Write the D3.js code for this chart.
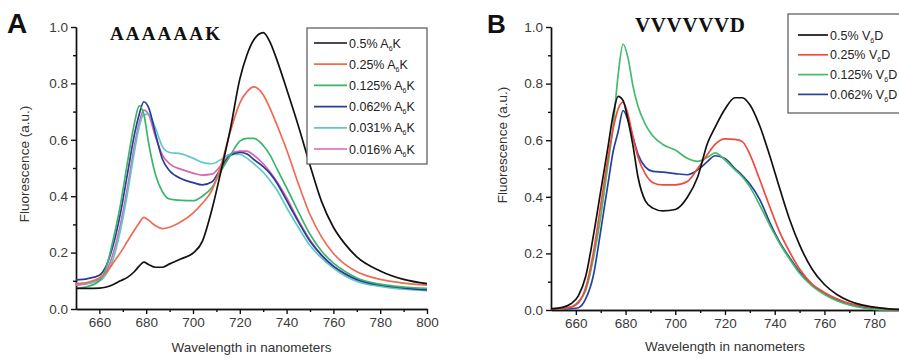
<!DOCTYPE html>
<html>
<head>
<meta charset="utf-8">
<script src="https://cdn.jsdelivr.net/npm/d3@7"></script>
<style>
  body { margin: 0; background: #fff; }
  svg { display: block; font-family: "Liberation Sans", Arial, sans-serif; }
  .axis path, .axis line { stroke: #111; stroke-width: 1.4; }
  .axis text { fill: #3a3a3a; font-size: 13.5px; }
  .curve { fill: none; stroke-width: 1.7; }
</style>
</head>
<body>
<div id="chart"></div>
<script>
// ---- panel A : AAAAAAK ----
const waveA = [650, 655, 660, 663, 666, 669, 672, 675, 677, 679, 681, 684, 687, 690, 695, 700, 704, 708,
  712, 716, 720, 723, 726, 730, 733, 736, 740, 745, 750, 755, 760, 765, 770, 780, 790, 800];
const a050 = [.073, .073, .074, .078, .087, .10, .112, .133, .152, .166, .158, .148, .148, .16, .178, .198, .24, .35,
  .49, .64, .815, .90, .955, .98, .945, .88, .78, .65, .51, .38, .29, .23, .185, .135, .105, .09];
const a025 = [.09, .095, .11, .13, .165, .20, .24, .28, .305, .325, .315, .295, .285, .29, .31, .34, .375, .42,
  .51, .63, .73, .77, .788, .76, .71, .65, .565, .445, .335, .255, .197, .158, .132, .105, .092, .085];
const a0125 = [.073, .08, .10, .15, .25, .37, .52, .66, .72, .69, .59, .475, .415, .39, .385, .384, .40, .43,
  .49, .545, .595, .605, .605, .58, .545, .495, .43, .345, .265, .205, .163, .133, .11, .088, .078, .073];
const a0062 = [.103, .108, .12, .155, .23, .34, .48, .62, .69, .735, .715, .62, .53, .49, .462, .448, .44, .45,
  .50, .545, .555, .55, .53, .505, .48, .445, .385, .31, .24, .19, .152, .125, .105, .085, .075, .068];
const a0031 = [.09, .092, .10, .125, .18, .28, .41, .56, .646, .69, .69, .64, .575, .555, .55, .535, .52, .515,
  .53, .548, .548, .535, .515, .485, .455, .42, .36, .29, .225, .18, .145, .117, .098, .08, .07, .065];
const a0016 = [.085, .09, .105, .135, .20, .30, .43, .58, .66, .705, .69, .61, .545, .515, .495, .482, .475, .478,
  .51, .55, .56, .56, .545, .515, .485, .45, .395, .315, .245, .19, .15, .122, .103, .083, .073, .067];
const labelsA = ["0.5%", "0.25%", "0.125%", "0.062%", "0.031%", "0.016%"];
const colorsA = ["#111111", "#f06a52", "#3cb46e", "#2b3b96", "#5ec9c6", "#d466b4"];

// ---- panel B : VVVVVVD ----
const waveB = [650, 655, 658, 661, 664, 667, 670, 673, 675, 677, 679, 681, 683, 685, 688, 691, 695, 700, 705,
  709, 713, 716, 720, 724, 727, 730, 734, 738, 742, 746, 750, 755, 760, 765, 770, 775, 780, 785, 790];
const b050 = [.004, .01, .022, .05, .12, .26, .42, .58, .69, .755, .74, .67, .58, .47, .385, .36, .35, .355, .40,
  .47, .59, .645, .71, .75, .75, .725, .65, .545, .43, .32, .23, .145, .09, .055, .032, .018, .01, .005, .002];
const b025 = [.004, .006, .01, .025, .08, .20, .37, .54, .64, .71, .735, .69, .61, .54, .48, .45, .442, .442, .455,
  .50, .55, .585, .605, .603, .595, .55, .46, .365, .275, .205, .145, .092, .062, .04, .024, .015, .008, .004, .001];
const b0125 = [.004, .006, .01, .03, .07, .18, .33, .52, .65, .83, .94, .89, .79, .72, .655, .615, .585, .565, .535,
  .525, .54, .555, .53, .495, .47, .435, .37, .30, .235, .18, .13, .085, .055, .033, .018, .008, .002, 0, 0];
const b0062 = [.004, .004, .005, .008, .04, .12, .28, .45, .56, .63, .705, .67, .61, .55, .505, .49, .487, .482, .478,
  .495, .525, .545, .535, .50, .475, .445, .39, .31, .24, .185, .135, .09, .057, .035, .02, .01, .003, 0, 0];
const labelsB = ["0.5%", "0.25%", "0.125%", "0.062%"];
const colorsB = ["#111111", "#f04a3c", "#45bb6c", "#2441a0"];

const yTicks = [0, 0.2, 0.4, 0.6, 0.8, 1.0];
const yMinor = [0.1, 0.3, 0.5, 0.7, 0.9];
const xTicksA = [660, 680, 700, 720, 740, 760, 780, 800];
const xMinorA = [670, 690, 710, 730, 750, 770, 790];
const xTicksB = [660, 680, 700, 720, 740, 760, 780];
const xMinorB = [670, 690, 710, 730, 750, 770];

const W = 899, H = 358;
const svg = d3.select("#chart").append("svg").attr("width", W).attr("height", H);

function panel(opt) {
  const x = d3.scaleLinear().domain(opt.xDomain).range(opt.xRange);
  const y = d3.scaleLinear().domain([0, 1]).range(opt.yRange);
  const g = svg.append("g");

  // minor ticks first, then the main axes
  g.append("g").attr("class", "axis").attr("transform", "translate(0," + opt.yRange[0] + ")")
    .call(d3.axisBottom(x).tickValues(opt.xMinor).tickSize(3).tickSizeOuter(0).tickFormat(""));
  g.append("g").attr("class", "axis").attr("transform", "translate(0," + opt.yRange[0] + ")")
    .call(d3.axisBottom(x).tickValues(opt.xTicks).tickSize(5).tickSizeOuter(0).tickFormat(d3.format("d")));
  g.append("g").attr("class", "axis").attr("transform", "translate(" + opt.xRange[0] + ",0)")
    .call(d3.axisLeft(y).tickValues(yMinor).tickSize(3).tickSizeOuter(0).tickFormat(""));
  g.append("g").attr("class", "axis").attr("transform", "translate(" + opt.xRange[0] + ",0)")
    .call(d3.axisLeft(y).tickValues(yTicks).tickSize(5).tickSizeOuter(0).tickFormat(d3.format(".1f")));

  const line = d3.line()
    .x(d => x(d[0]))
    .y(d => y(d[1]))
    .curve(d3.curveMonotoneX);

  const series = opt.series.map((vals, i) => ({ vals: vals, color: opt.colors[i] }));
  g.append("g").selectAll("path")
    .data(series.slice().reverse())
    .enter().append("path")
    .attr("class", "curve")
    .attr("stroke", d => d.color)
    .attr("d", d => line(opt.wave.map((w, k) => [w, d.vals[k]])));

  // axis titles
  g.append("text")
    .attr("x", (opt.xRange[0] + opt.xRange[1]) / 2)
    .attr("y", opt.xTitleY)
    .attr("text-anchor", "middle")
    .attr("font-size", 13.5).attr("fill", "#333")
    .text("Wavelength in nanometers");
  g.append("text")
    .attr("transform", "translate(" + opt.yTitle[0] + "," + opt.yTitle[1] + ") rotate(-90)")
    .attr("text-anchor", "middle")
    .attr("font-size", 13.5).attr("fill", "#333")
    .text("Fluorescence (a.u.)");

  // panel letter and peptide name
  g.append("text")
    .attr("x", opt.letter[0]).attr("y", opt.letter[1])
    .attr("font-size", opt.letter[2]).attr("font-weight", "bold").attr("fill", "#111")
    .text(opt.letterText);
  g.append("text")
    .attr("x", opt.name[0]).attr("y", opt.name[1])
    .attr("font-family", "'Liberation Serif', 'Times New Roman', serif")
    .attr("font-size", opt.name[2]).attr("font-weight", "bold").attr("fill", "#111")
    .attr("textLength", 110).attr("lengthAdjust", "spacing")
    .text(opt.nameText);

  // legend
  const lg = g.append("g");
  lg.append("rect")
    .attr("x", opt.legend.x).attr("y", opt.legend.y)
    .attr("width", opt.legend.w).attr("height", opt.legend.h)
    .attr("fill", "#fff").attr("stroke", "#555").attr("stroke-width", 1.2);
  opt.labels.forEach((lab, i) => {
    const ly = opt.legend.y0 + i * opt.legend.dy;
    lg.append("line")
      .attr("x1", opt.legend.lx1).attr("x2", opt.legend.lx2)
      .attr("y1", ly).attr("y2", ly)
      .attr("stroke", opt.colors[i]).attr("stroke-width", 1.7);
    const t = lg.append("text")
      .attr("x", opt.legend.lx2 + 2).attr("y", ly + 4.5)
      .attr("font-size", 12.5).attr("fill", "#222");
    t.append("tspan").text(lab + " " + opt.unit[0]);
    t.append("tspan").attr("font-size", 7).attr("dy", 3).text("6");
    t.append("tspan").attr("dy", -3).text(opt.unit[1]);
  });
}

panel({
  xDomain: [650, 800], xRange: [76, 427], yRange: [309, 27],
  xTicks: xTicksA, xMinor: xMinorA,
  wave: waveA, series: [a050, a025, a0125, a0062, a0031, a0016],
  colors: colorsA, labels: labelsA, unit: ["A", "K"],
  xTitleY: 352, yTitle: [29, 164],
  letter: [7, 33, 28], letterText: "A",
  name: [110, 40, 19], nameText: "AAAAAAK",
  legend: { x: 307, y: 28, w: 120, h: 136, y0: 43, dy: 21.2, lx1: 314, lx2: 347 }
});

panel({
  xDomain: [650, 790], xRange: [551, 899], yRange: [310, 27],
  xTicks: xTicksB, xMinor: xMinorB,
  wave: waveB, series: [b050, b025, b0125, b0062],
  colors: colorsB, labels: labelsB, unit: ["V", "D"],
  xTitleY: 351, yTitle: [507, 145],
  letter: [487, 33, 26], letterText: "B",
  name: [635, 32, 21], nameText: "VVVVVVD",
  legend: { x: 788, y: 14, w: 130, h: 99, y0: 35, dy: 19.8, lx1: 798, lx2: 828 }
});
</script>
</body>
</html>
